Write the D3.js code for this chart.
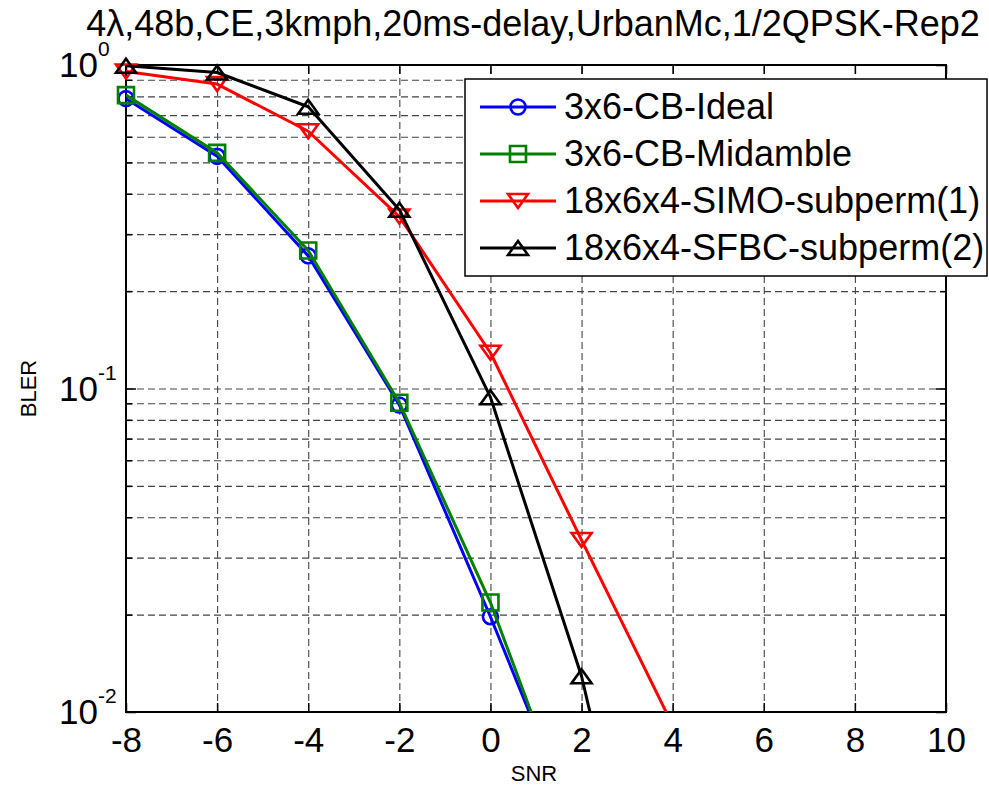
<!DOCTYPE html>
<html>
<head>
<meta charset="utf-8">
<script src="https://cdn.jsdelivr.net/npm/d3@7"></script>
<style>
  body { margin: 0; background: #fff; }
  svg { display: block; font-family: "Liberation Sans", Arial, Helvetica, sans-serif; }
</style>
</head>
<body>
<div id="chart"></div>
<script>
// values
const snr = [-8, -6, -4, -2, 0, 2, 4];
const ideal = [0.787, 0.522, 0.257, 0.0889, 0.0197, 0.0040];
const midamble = [0.807, 0.535, 0.267, 0.0904, 0.0218, 0.0038];
const simo = [0.955, 0.873, 0.624, 0.340, 0.129, 0.034, 0.0091];
const sfbc = [0.995, 0.948, 0.743, 0.357, 0.094, 0.0129, 0.0008];

const seriesNames = ["3x6-CB-Ideal", "3x6-CB-Midamble", "18x6x4-SIMO-subperm(1)", "18x6x4-SFBC-subperm(2)"];
const seriesColors = ["#0000ff", "#008000", "#ff0000", "#000000"];
const seriesMarkers = ["circle", "square", "down", "up"];

const xTicks = [-8, -6, -4, -2, 0, 2, 4, 6, 8, 10];
const yMajor = [0.01, 0.1, 1];
const yExp = ["-2", "-1", "0"];
const yMinor = [0.02, 0.03, 0.04, 0.05, 0.06, 0.07, 0.08, 0.09, 0.2, 0.3, 0.4, 0.5, 0.6, 0.7, 0.8, 0.9];

const titleText = "4\u03bb,48b,CE,3kmph,20ms-delay,UrbanMc,1/2QPSK-Rep2";

const width = 989;
const height = 786;
const plotL = 126, plotR = 946, plotT = 65, plotB = 712;

const x = d3.scaleLinear().domain([-8, 10]).range([plotL, plotR]);
const y = d3.scaleLog().domain([0.01, 1]).range([plotB, plotT]);

const svg = d3.select("#chart").append("svg")
  .attr("width", width)
  .attr("height", height);

svg.append("rect").attr("width", width).attr("height", height).attr("fill", "#fff");

svg.append("clipPath").attr("id", "plotclip")
  .append("rect")
  .attr("x", plotL).attr("y", plotT)
  .attr("width", plotR - plotL).attr("height", plotB - plotT);

// grid
const grid = svg.append("g").attr("class", "grid");
grid.append("g")
  .attr("transform", `translate(0,${plotB})`)
  .call(d3.axisBottom(x).tickValues(xTicks.slice(1, -1)).tickSize(-(plotB - plotT)).tickFormat(""));
grid.append("g")
  .attr("transform", `translate(${plotL},0)`)
  .call(d3.axisLeft(y).tickValues(yMinor.concat([0.1])).tickSize(-(plotR - plotL)).tickFormat(""));
grid.selectAll(".domain").remove();
grid.selectAll(".tick line")
  .attr("stroke", "#444")
  .attr("stroke-width", 1.1)
  .attr("stroke-dasharray", "7,4");

// axis ticks (inside, all four sides)
function styleAxis(g) {
  g.select(".domain").remove();
  g.selectAll(".tick line").attr("stroke", "#000").attr("stroke-width", 1.5);
}
svg.append("g")
  .attr("transform", `translate(0,${plotB})`)
  .call(d3.axisBottom(x).tickValues(xTicks).tickSize(-9).tickPadding(15).tickFormat(d => String(d)))
  .call(styleAxis)
  .call(g => g.selectAll("text")
    .attr("fill", "#000")
    .attr("font-size", 35)
    .attr("font-family", "Liberation Sans, Arial, sans-serif"));
svg.append("g")
  .attr("transform", `translate(0,${plotT})`)
  .call(d3.axisTop(x).tickValues(xTicks).tickSize(-9).tickFormat(""))
  .call(styleAxis);
svg.append("g")
  .attr("transform", `translate(${plotL},0)`)
  .call(d3.axisLeft(y).tickValues(yMajor).tickSize(-10).tickFormat(""))
  .call(styleAxis);
svg.append("g")
  .attr("transform", `translate(${plotL},0)`)
  .call(d3.axisLeft(y).tickValues(yMinor).tickSize(-6).tickFormat(""))
  .call(styleAxis);
svg.append("g")
  .attr("transform", `translate(${plotR},0)`)
  .call(d3.axisRight(y).tickValues(yMajor).tickSize(-10).tickFormat(""))
  .call(styleAxis);
svg.append("g")
  .attr("transform", `translate(${plotR},0)`)
  .call(d3.axisRight(y).tickValues(yMinor).tickSize(-6).tickFormat(""))
  .call(styleAxis);

// y tick labels 10^n
const yLab = svg.append("g").selectAll("g").data(yMajor).join("g");
yLab.append("text")
  .attr("x", 98)
  .attr("y", d => y(d) + 12)
  .attr("text-anchor", "end")
  .attr("font-size", 35)
  .text("10");
yLab.append("text")
  .attr("x", 98)
  .attr("y", d => y(d) - 9)
  .attr("font-size", 21)
  .text((d, i) => yExp[i]);

// box
svg.append("rect")
  .attr("x", plotL).attr("y", plotT)
  .attr("width", plotR - plotL).attr("height", plotB - plotT)
  .attr("fill", "none").attr("stroke", "#000").attr("stroke-width", 2);

// marker drawing
function markerPath(type) {
  if (type === "circle") return d3.symbol(d3.symbolCircle, Math.PI * 7.5 * 7.5)();
  if (type === "square") return "M-8,-8H8V8H-8Z";
  if (type === "up") return "M0,-7L10,7H-10Z";
  return "M0,7L10,-7H-10Z";
}

const allSeries = [ideal, midamble, simo, sfbc].map((vals, i) => ({
  name: seriesNames[i],
  color: seriesColors[i],
  marker: seriesMarkers[i],
  points: vals.map((v, j) => ({ snr: snr[j], bler: v }))
}));

const line = d3.line().x(d => x(d.snr)).y(d => y(d.bler));

const plot = svg.append("g");
allSeries.forEach(s => {
  const g = plot.append("g");
  g.append("path")
    .datum(s.points)
    .attr("clip-path", "url(#plotclip)")
    .attr("fill", "none")
    .attr("stroke", s.color)
    .attr("stroke-width", 3)
    .attr("stroke-linejoin", "round")
    .attr("d", line);
  g.selectAll("path.mk")
    .data(s.points.filter(d => d.bler >= 0.01))
    .join("path")
    .attr("class", "mk")
    .attr("transform", d => `translate(${x(d.snr)},${y(d.bler)})`)
    .attr("d", markerPath(s.marker))
    .attr("fill", "none")
    .attr("stroke", s.color)
    .attr("stroke-width", 2.6);
});

// legend
const legend = svg.append("g");
legend.append("rect")
  .attr("x", 465).attr("y", 79)
  .attr("width", 522).attr("height", 197)
  .attr("fill", "#fff").attr("stroke", "#000").attr("stroke-width", 1.5);
const rows = legend.selectAll("g.row").data(allSeries).join("g")
  .attr("class", "row")
  .attr("transform", (d, i) => `translate(0,${107 + i * 47})`);
rows.append("line")
  .attr("x1", 480).attr("x2", 556)
  .attr("stroke", d => d.color).attr("stroke-width", 3);
rows.append("path")
  .attr("transform", "translate(518,0)")
  .attr("d", d => markerPath(d.marker))
  .attr("fill", "none")
  .attr("stroke", d => d.color)
  .attr("stroke-width", 2.6);
rows.append("text")
  .attr("x", 564).attr("y", 12)
  .attr("font-size", 36)
  .text(d => d.name);

// title and axis labels
svg.append("text")
  .attr("x", 533).attr("y", 36)
  .attr("text-anchor", "middle")
  .attr("font-size", 36)
  .text(titleText);
svg.append("text")
  .attr("x", 534).attr("y", 781)
  .attr("text-anchor", "middle")
  .attr("font-size", 22)
  .text("SNR");
svg.append("text")
  .attr("transform", `translate(36,${(plotT + plotB) / 2}) rotate(-90)`)
  .attr("text-anchor", "middle")
  .attr("font-size", 22)
  .text("BLER");
</script>
</body>
</html>
